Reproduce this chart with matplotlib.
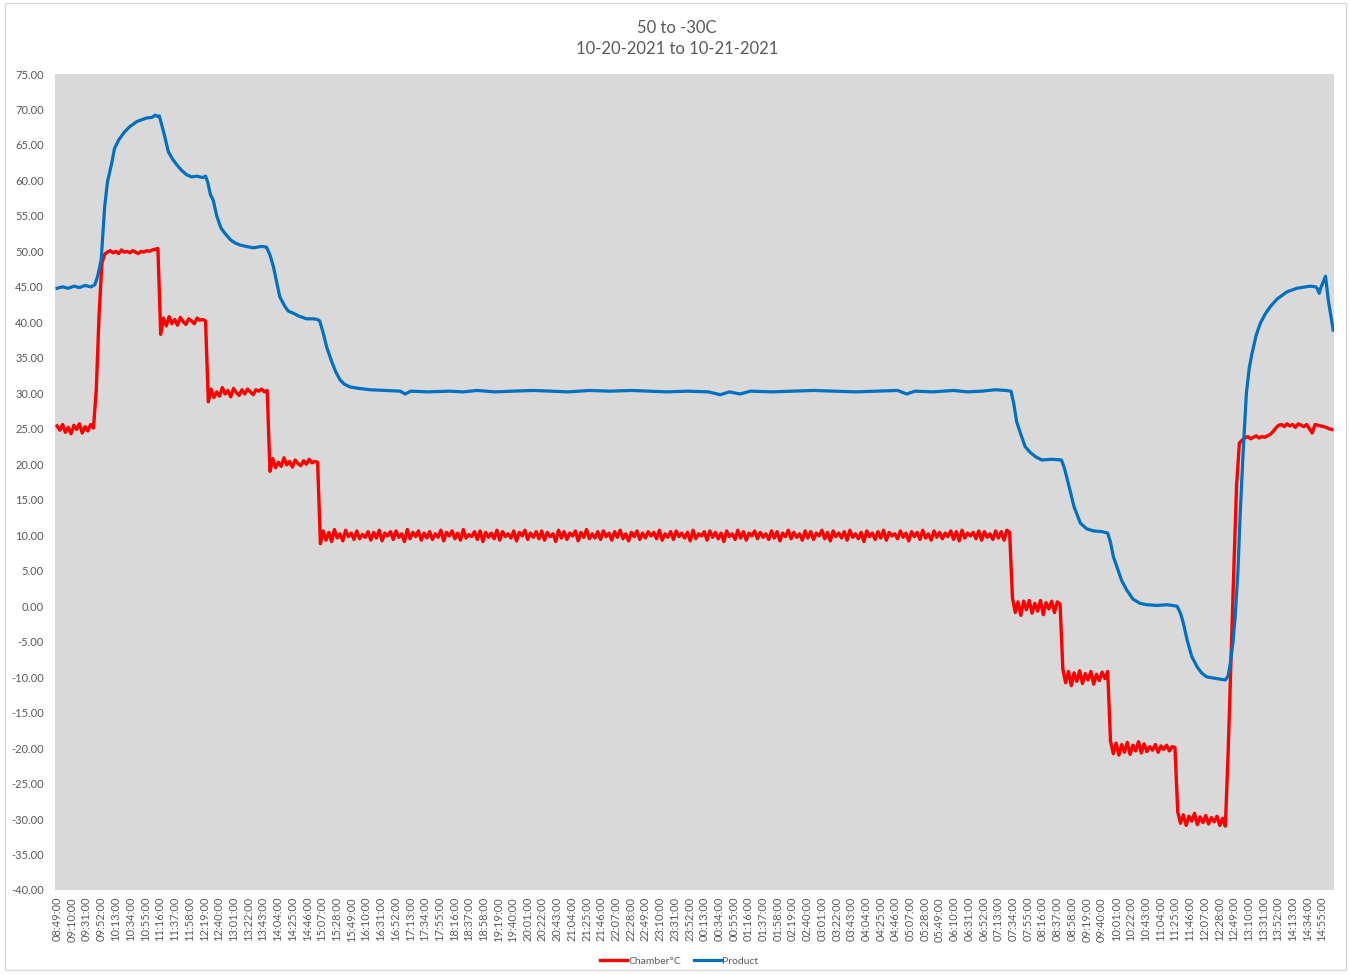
import numpy as np
import matplotlib.pyplot as plt
from matplotlib.patches import Rectangle

plt.rcParams['font.family'] = ['Lato', 'DejaVu Sans']

# Chamber readings, one every 4 minutes from 08:49:00 (10-20-2021)
chamber_step = 4
chamber = [
    # ~25 start
    25.4, 24.8, 25.6, 24.5, 25.2, 24.3, 25.5, 24.9, 25.7, 24.4, 25.3, 24.7, 25.6, 25.1,
    30.5, 41.0, 48.3,
    # 50 step
    49.6, 49.9, 50.1, 49.8, 50.0, 49.7, 50.2, 49.9, 50.0, 49.8, 50.1, 49.9, 49.7, 50.0, 49.9, 50.1, 50.0, 50.2, 50.3, 50.4,
    # 40 step
    38.3, 40.6, 39.5, 40.8, 39.8, 40.4, 39.6, 40.7, 40.1, 39.7, 40.5, 40.2, 39.8, 40.6, 40.3, 40.4, 40.2,
    # 30 step
    28.8, 30.6, 29.4, 30.2, 29.6, 30.8, 29.9, 30.4, 29.5, 30.7, 30.1, 29.7, 30.5, 29.9, 30.6, 30.2, 29.8, 30.5, 30.3, 30.6, 30.2, 30.4,
    # 20 step
    19.0, 20.8, 19.5, 20.3, 19.7, 20.9, 19.9, 20.4, 19.6, 20.6, 20.1, 19.8, 20.5, 20.0, 20.7, 20.2, 20.4, 20.3,
    # 10 step (long soak)
    8.8, 10.6, 9.3, 10.4, 9.1, 10.8, 9.6, 10.2, 9.2, 10.7, 9.8, 10.3, 9.4, 10.6, 9.5, 10.1, 9.7, 10.5, 9.3, 10.4,
    9.6, 10.7, 9.2, 10.3, 9.9, 10.5, 9.4, 10.6, 9.7, 10.2, 9.1, 10.8, 9.5, 10.4, 9.8, 10.6, 9.3, 10.3, 9.6, 10.5,
    9.4, 10.2, 9.7, 10.7, 9.2, 10.4, 9.9, 10.6, 9.5, 10.3, 9.3, 10.8, 9.6, 10.1, 9.8, 10.5, 9.4, 10.6, 9.1, 10.4,
    9.7, 10.3, 9.5, 10.7, 9.3, 10.5, 9.8, 10.2, 9.6, 10.6, 9.2, 10.4, 9.9, 10.7, 9.4, 10.3, 9.7, 10.5, 9.5, 10.6,
    9.3, 10.4, 9.8, 10.2, 9.1, 10.7, 9.6, 10.5, 9.4, 10.3, 9.9, 10.6, 9.2, 10.4, 9.7, 10.8, 9.5, 10.2, 9.6, 10.5,
    9.4, 10.6, 9.8, 10.3, 9.3, 10.5, 9.7, 10.7, 9.5, 10.2, 9.2, 10.4, 9.8, 10.6, 9.4, 10.3, 9.6, 10.5, 9.9, 10.4,
    9.5, 10.7, 9.3, 10.2, 9.7, 10.5, 9.4, 10.6, 9.8, 10.3, 9.6, 10.4, 9.2, 10.7, 9.5, 10.2, 9.9, 10.5, 9.3, 10.6,
    9.7, 10.4, 9.5, 10.3, 9.1, 10.6, 9.8, 10.2, 9.4, 10.7, 9.6, 10.5, 9.3, 10.3, 9.9, 10.6, 9.5, 10.4, 9.7, 10.2,
    9.4, 10.6, 9.6, 10.5, 9.2, 10.3, 9.8, 10.7, 9.5, 10.4, 9.7, 10.2, 9.3, 10.6, 9.6, 10.5, 9.4, 10.3, 9.9, 10.7,
    9.5, 10.4, 9.2, 10.6, 9.8, 10.3, 9.6, 10.5, 9.3, 10.7, 9.7, 10.2, 9.5, 10.4, 9.1, 10.6, 9.8, 10.3, 9.4, 10.5,
    9.6, 10.7, 9.3, 10.4, 9.9, 10.2, 9.5, 10.6, 9.7, 10.3, 9.2, 10.5, 9.8, 10.4, 9.4, 10.7, 9.6, 10.2, 9.3, 10.6,
    9.7, 10.4, 9.5, 10.3, 9.8, 10.6, 9.4, 10.5, 9.2, 10.7, 9.6, 10.3, 9.9, 10.4, 9.5, 10.6, 9.3, 10.5, 9.7, 10.2,
    9.4, 10.6, 9.6, 10.5, 9.3, 10.7, 10.4,
    # 0 step
    1.2, -0.9, 0.6, -1.3, 0.7, -0.5, 0.8, -1.0, 0.4, -0.7, 0.8, -1.2, 0.5, -0.4, 0.7, -0.9, 0.6, 0.3,
    # -10 step
    -8.9, -10.8, -9.2, -11.2, -9.4, -10.6, -9.1, -10.9, -9.5, -10.4, -9.2, -11.0, -9.6, -10.5, -9.3, -10.2, -9.2,
    # -20 step
    -19.0, -20.8, -19.3, -21.0, -19.5, -20.6, -19.2, -20.9, -19.6, -20.4, -19.1, -20.7, -19.4, -20.5, -19.8, -20.3,
    -19.5, -20.6, -19.7, -20.2, -19.6, -20.4, -19.8, -19.9,
    # -30 step
    -29.0, -30.6, -29.4, -30.9, -29.6, -30.3, -29.2, -30.8, -29.7, -30.5, -29.5, -30.7, -29.8, -30.4, -29.6, -30.9, -29.9, -31.0,
    # return to ambient
    -20.5, -7.5, 5.0, 17.0, 23.0, 23.4,
    23.7, 23.9, 23.6, 23.8, 24.0, 23.7, 23.9, 23.8, 24.0,
    24.2, 24.6, 25.1, 25.5, 25.6,
    25.3, 25.7, 25.4, 25.6, 25.2, 25.7, 25.5, 25.3, 25.6, 25.0, 24.4, 25.6, 25.5, 25.4, 25.3, 25.2, 25.0, 24.9,
]

# Product readings (minutes after 08:49:00, deg C)
product_min = [
    0, 8, 16, 24, 32, 40, 48, 54, 58, 63, 68, 72, 78, 82, 88, 96, 104, 114, 122, 128, 136, 140, 144, 146,
    149, 153, 159, 165, 171, 178, 185, 192, 200, 208, 212, 215, 219, 223, 228, 234, 240, 248, 254, 261,
    270, 280, 292, 299, 304, 309, 314, 318, 325, 330, 337, 345, 356, 366, 372, 375, 380, 385, 392, 398,
    404, 410, 418, 430, 447, 470, 490, 497, 505, 530, 560, 580, 600, 625, 650, 680, 705, 730, 760, 790,
    820, 845, 870, 900, 930, 947, 960, 975, 990, 1020, 1050, 1080, 1110, 1140, 1170, 1200, 1213, 1225,
    1250, 1280, 1300, 1320, 1340, 1355, 1362, 1366, 1370, 1375, 1382, 1390, 1398, 1406, 1420, 1434,
    1438, 1442, 1446, 1452, 1461, 1470, 1480, 1492, 1500, 1504, 1508, 1513, 1520, 1527, 1536, 1546,
    1556, 1570, 1585, 1599, 1604, 1608, 1614, 1620, 1628, 1634, 1641, 1655, 1668, 1672, 1675, 1679,
    1682, 1686, 1689, 1693, 1698, 1702, 1706, 1712, 1718, 1725, 1732, 1742, 1756, 1770, 1789, 1797,
    1799, 1802, 1804, 1811, 1815, 1822,
]
product = [
    44.8, 45.0, 44.8, 45.1, 44.9, 45.2, 45.0, 45.3, 46.5, 48.8, 56.3, 59.8, 62.4, 64.5, 65.7, 66.8, 67.6, 68.3, 68.6, 68.8, 68.9, 69.2, 69.0, 69.1,
    68.0, 66.5, 64.0, 63.0, 62.2, 61.4, 60.8, 60.5, 60.6, 60.4, 60.6, 59.8, 58.0, 57.2, 55.0, 53.3, 52.5, 51.6, 51.2, 50.9,
    50.7, 50.5, 50.7, 50.6, 49.5, 47.8, 45.5, 43.6, 42.3, 41.6, 41.3, 40.9, 40.5, 40.5, 40.4, 40.2, 38.5, 36.5, 34.5, 33.0,
    31.9, 31.3, 30.9, 30.7, 30.5, 30.4, 30.3, 29.9, 30.3, 30.2, 30.3, 30.2, 30.4, 30.2, 30.3, 30.4, 30.3, 30.2, 30.4, 30.3,
    30.4, 30.3, 30.2, 30.3, 30.2, 29.8, 30.2, 29.9, 30.3, 30.2, 30.3, 30.4, 30.3, 30.2, 30.3, 30.4, 29.9, 30.3,
    30.2, 30.4, 30.2, 30.3, 30.5, 30.4, 30.3, 28.5, 26.0, 24.5, 22.5, 21.6, 21.0, 20.6, 20.7, 20.6,
    19.5, 18.0, 16.4, 14.0, 11.7, 10.9, 10.6, 10.5, 10.3, 9.0, 7.0, 5.6, 3.6, 2.3, 1.0, 0.4,
    0.2, 0.1, 0.2, 0.0, -1.0, -2.4, -5.0, -7.1, -8.6, -9.4, -9.95, -10.2, -10.4, -9.8, -8.05, -5.0,
    -1.5, 5.0, 12.6, 21.0, 30.0, 33.5, 35.6, 38.2, 39.9, 41.2, 42.2, 43.3, 44.3, 44.8, 45.1, 45.0,
    44.8, 44.1, 44.8, 46.5, 43.1, 38.9,
]

# category labels shown every 21 minutes
tick_labels = [
    '08:49:00', '09:10:00', '09:31:00', '09:52:00', '10:13:00', '10:34:00', '10:55:00', '11:16:00',
    '11:37:00', '11:58:00', '12:19:00', '12:40:00', '13:01:00', '13:22:00', '13:43:00', '14:04:00',
    '14:25:00', '14:46:00', '15:07:00', '15:28:00', '15:49:00', '16:10:00', '16:31:00', '16:52:00',
    '17:13:00', '17:34:00', '17:55:00', '18:16:00', '18:37:00', '18:58:00', '19:19:00', '19:40:00',
    '20:01:00', '20:22:00', '20:43:00', '21:04:00', '21:25:00', '21:46:00', '22:07:00', '22:28:00',
    '22:49:00', '23:10:00', '23:31:00', '23:52:00', '00:13:00', '00:34:00', '00:55:00', '01:16:00',
    '01:37:00', '01:58:00', '02:19:00', '02:40:00', '03:01:00', '03:22:00', '03:43:00', '04:04:00',
    '04:25:00', '04:46:00', '05:07:00', '05:28:00', '05:49:00', '06:10:00', '06:31:00', '06:52:00',
    '07:13:00', '07:34:00', '07:55:00', '08:16:00', '08:37:00', '08:58:00', '09:19:00', '09:40:00',
    '10:01:00', '10:22:00', '10:43:00', '11:04:00', '11:25:00', '11:46:00', '12:07:00', '12:28:00',
    '12:49:00', '13:10:00', '13:31:00', '13:52:00', '14:13:00', '14:34:00', '14:55:00',
]
tick_every = 21

txt = '#595959'
fig = plt.figure(figsize=(13.5, 9.75), dpi=100)
fig.patches.append(Rectangle((0.004, 0.005), 0.993, 0.992, transform=fig.transFigure,
                             fill=False, edgecolor='#D9D9D9', linewidth=1.0))
ax = fig.add_axes([0.0407, 0.0872, 0.9474, 0.8369])
ax.set_facecolor('#D9D9D9')

chamber_min = np.arange(len(chamber)) * chamber_step
ax.plot(chamber_min, chamber, color='#FF0000', lw=2.4, label='Chamber°C', solid_joinstyle='round')
ax.plot(product_min, product, color='#0070C0', lw=2.3, label='Product', solid_joinstyle='round')

ax.set_xlim(-3, 1823)
ax.set_ylim(-40, 75)
ax.set_yticks(np.arange(-40, 76, 5))
ax.yaxis.set_major_formatter(plt.FuncFormatter(lambda v, p: '{:.2f}'.format(v)))
ax.set_xticks(np.arange(len(tick_labels)) * tick_every)
ax.set_xticklabels(tick_labels, rotation=90)
ax.tick_params(axis='both', length=0, colors=txt)
ax.tick_params(axis='y', labelsize=8, pad=8)
ax.tick_params(axis='x', labelsize=8, pad=5)
for s in ax.spines.values():
    s.set_visible(False)

fig.text(0.5015, 0.9715, '50 to -30C', ha='center', va='center', fontsize=12, color=txt)
fig.text(0.5015, 0.9495, '10-20-2021 to 10-21-2021', ha='center', va='center', fontsize=12, color=txt)

fig.legend(loc='lower center', bbox_to_anchor=(0.503, 0.0), ncol=2, frameon=False,
           fontsize=7.5, labelcolor=txt, handlelength=2.6, handletextpad=0.1, columnspacing=1.2)

plt.savefig('out.png', dpi=100)
